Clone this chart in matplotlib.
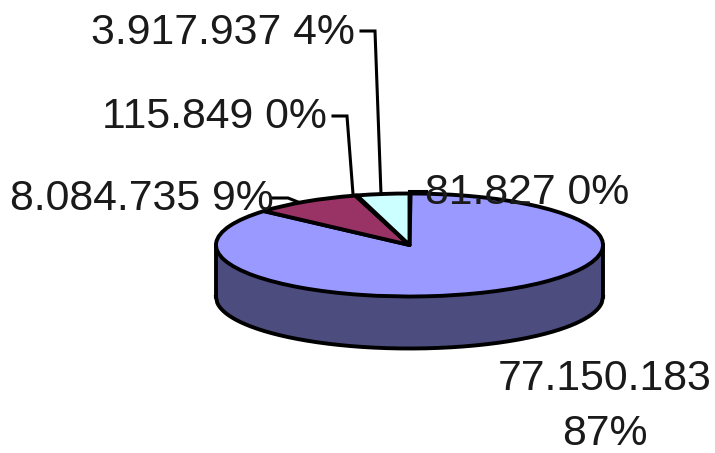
import numpy as np
import matplotlib
matplotlib.use("Agg")
import matplotlib.pyplot as plt

values = [81827, 77150183, 8084735, 115849, 3917937]
colors = ["#FFFFCC", "#9999FF", "#993366", "#FFFFCC", "#CCFFFF"]
side_color = "#4C4C7F"
labels = ["81.827 0%", "77.150.183\n87%", "8.084.735 9%", "115.849 0%", "3.917.937 4%"]

W, H = 715, 453
cx, cy, rx, ry, depth = 409.5, 245.0, 193.5, 51.5, 52.0
LW = 2.8

plt.rcParams["font.family"] = ["Liberation Sans", "DejaVu Sans"]
fig = plt.figure(figsize=(W / 100, H / 100), dpi=100)

ax = fig.add_axes([0, 0, 1, 1])
ax.pie(values, colors=colors, startangle=90, counterclock=False, radius=1,
       wedgeprops=dict(edgecolor="black", linewidth=LW, joinstyle="round", zorder=3))
ax.set_aspect("auto")
ax.set_xlim(-cx / rx, (W - cx) / rx)
ax.set_ylim((cy - H) / ry, cy / ry)
ax.axis("off")

# Cylinder side of the pie
t = np.linspace(-1, 1, 300)
lower = -np.sqrt(1 - t ** 2)
d = depth / ry
ax.fill_between(t, lower - d, 0, color=side_color, zorder=1, linewidth=0)
ax.plot(t, lower - d, color="black", lw=LW, zorder=2)
ax.plot([-1, -1], [0, -d], color="black", lw=LW, zorder=2)
ax.plot([1, 1], [0, -d], color="black", lw=LW, zorder=2)

# Overlay in pixel coordinates for labels and leader lines
ov = fig.add_axes([0, 0, 1, 1], facecolor="none")
ov.set_xlim(0, W)
ov.set_ylim(H, 0)
ov.axis("off")

leaders = [
    ([409, 426], [191, 191]),
    ([361, 375, 381], [31, 31, 194]),
    ([333, 347, 353], [116, 116, 194]),
    ([272, 288, 298], [198, 198, 202]),
]
for xs, ys in leaders:
    ov.plot(xs, ys, color="black", lw=2.2, solid_joinstyle="miter")

fs = 30.8
ov.text(425, 192.5, labels[0], fontsize=fs, ha="left", va="center", color="#1a1a1a")
ov.text(605, 406.5, labels[1], fontsize=fs, ha="center", va="center", color="#1a1a1a", linespacing=1.5)
ov.text(273.5, 199, labels[2], fontsize=fs, ha="right", va="center", color="#1a1a1a")
ov.text(327, 116.5, labels[3], fontsize=fs, ha="right", va="center", color="#1a1a1a")
ov.text(355, 32.5, labels[4], fontsize=fs, ha="right", va="center", color="#1a1a1a")

fig.savefig("out.png", dpi=100)
